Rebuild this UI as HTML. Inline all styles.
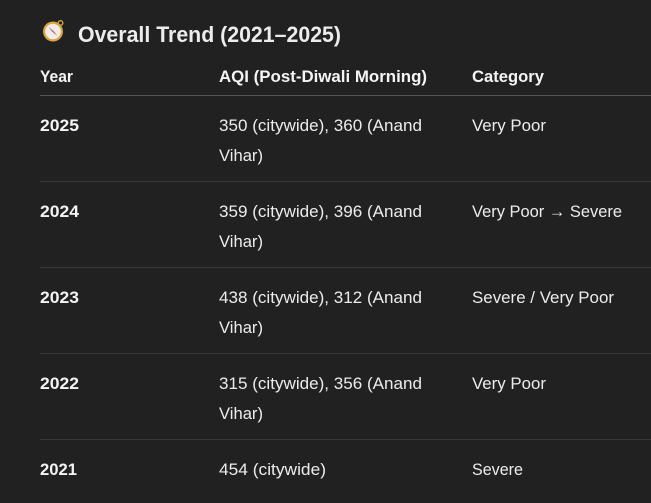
<!DOCTYPE html>
<html><head><meta charset="utf-8"><style>
html,body{margin:0;padding:0;background:#212121;}
body{width:651px;height:503px;overflow:hidden;}
svg{display:block;}
text{font-family:"Liberation Sans",sans-serif;fill:#ececec;}
.h{font-weight:bold;fill:#f4f4f4;font-size:16.5px;}
.b{font-size:17px;}
.y{font-weight:bold;font-size:16.5px;fill:#f4f4f4;}
</style></head><body>
<svg width="651" height="503" viewBox="0 0 651 503" xmlns="http://www.w3.org/2000/svg">
<rect width="651" height="503" fill="#212121"/>
<!-- compass emoji -->
<g>
<circle cx="53" cy="31.5" r="10" fill="#d9a441"/>
<circle cx="53" cy="31.5" r="7.8" fill="#f1ece6"/>
<circle cx="60.5" cy="23" r="2.3" fill="none" stroke="#d9a441" stroke-width="1.4"/>
<path d="M48.5 27 L53.5 31 L57.5 36 L52.5 32 Z" fill="#c8525f"/>
<path d="M48.5 27 L53 31.5 L52.5 32 Z" fill="#7b8bc0"/>
</g>
<text x="78" y="42" font-size="22.5" font-weight="bold" fill="#f4f4f4" textLength="263" lengthAdjust="spacingAndGlyphs">Overall Trend (2021–2025)</text>
<!-- header -->
<text class="h" x="40" y="82" textLength="33" lengthAdjust="spacingAndGlyphs">Year</text>
<text class="h" x="219" y="82" textLength="208" lengthAdjust="spacingAndGlyphs">AQI (Post-Diwali Morning)</text>
<text class="h" x="472" y="82" textLength="72" lengthAdjust="spacingAndGlyphs">Category</text>
<rect x="40" y="95" width="611" height="1" fill="#555555"/>
<!-- row lines -->
<rect x="40" y="181" width="611" height="1" fill="#383838"/>
<rect x="40" y="267" width="611" height="1" fill="#383838"/>
<rect x="40" y="353" width="611" height="1" fill="#383838"/>
<rect x="40" y="439" width="611" height="1" fill="#383838"/>
<!-- row 2025 -->
<text class="y" x="40" y="131" textLength="39" lengthAdjust="spacingAndGlyphs">2025</text>
<text class="b" x="219" y="131" textLength="203" lengthAdjust="spacingAndGlyphs">350 (citywide), 360 (Anand</text>
<text class="b" x="219" y="161" textLength="44" lengthAdjust="spacingAndGlyphs">Vihar)</text>
<text class="b" x="472" y="131" textLength="74" lengthAdjust="spacingAndGlyphs">Very Poor</text>
<!-- row 2024 -->
<text class="y" x="40" y="217" textLength="39" lengthAdjust="spacingAndGlyphs">2024</text>
<text class="b" x="219" y="217" textLength="203" lengthAdjust="spacingAndGlyphs">359 (citywide), 396 (Anand</text>
<text class="b" x="219" y="247" textLength="44" lengthAdjust="spacingAndGlyphs">Vihar)</text>
<text class="b" x="472" y="217" textLength="150" lengthAdjust="spacingAndGlyphs">Very Poor → Severe</text>
<!-- row 2023 -->
<text class="y" x="40" y="303" textLength="39" lengthAdjust="spacingAndGlyphs">2023</text>
<text class="b" x="219" y="303" textLength="203" lengthAdjust="spacingAndGlyphs">438 (citywide), 312 (Anand</text>
<text class="b" x="219" y="333" textLength="44" lengthAdjust="spacingAndGlyphs">Vihar)</text>
<text class="b" x="472" y="303" textLength="142" lengthAdjust="spacingAndGlyphs">Severe / Very Poor</text>
<!-- row 2022 -->
<text class="y" x="40" y="389" textLength="39" lengthAdjust="spacingAndGlyphs">2022</text>
<text class="b" x="219" y="389" textLength="203" lengthAdjust="spacingAndGlyphs">315 (citywide), 356 (Anand</text>
<text class="b" x="219" y="419" textLength="44" lengthAdjust="spacingAndGlyphs">Vihar)</text>
<text class="b" x="472" y="389" textLength="74" lengthAdjust="spacingAndGlyphs">Very Poor</text>
<!-- row 2021 -->
<text class="y" x="40" y="475" textLength="37" lengthAdjust="spacingAndGlyphs">2021</text>
<text class="b" x="219" y="475" textLength="107" lengthAdjust="spacingAndGlyphs">454 (citywide)</text>
<text class="b" x="472" y="475" textLength="51" lengthAdjust="spacingAndGlyphs">Severe</text>
</svg>
</body></html>
